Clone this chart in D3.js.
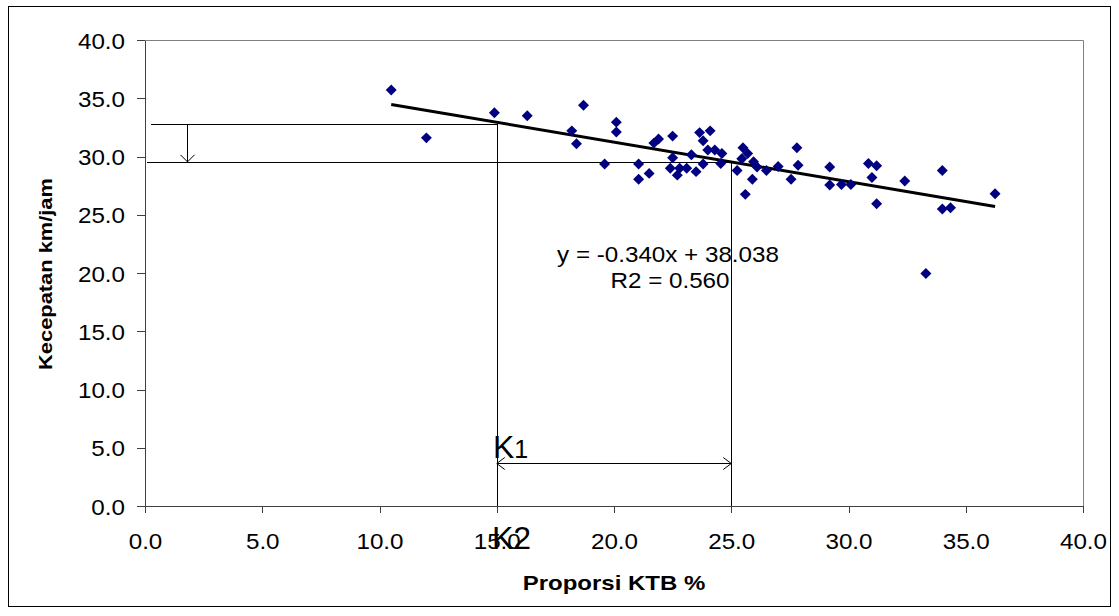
<!DOCTYPE html>
<html>
  <head>
    <meta charset="utf-8">
    <title>Kecepatan vs Proporsi KTB</title>
    <style>
      body { margin: 0; background: #fff; }
      svg text { font-family: "Liberation Sans", Arial, sans-serif; fill: #000; }
      .axis path, .axis line { fill: none; stroke: #404040; shape-rendering: crispEdges; }
      .axis text { font-size: 22px; }
      .title { font-size: 19px; font-weight: bold; }
      .guide { stroke: #000; stroke-width: 1; fill: none; shape-rendering: crispEdges; }
    </style>
  </head>
  <body>
    <div class="chart"></div>
    <script src="https://d3js.org/d3.v7.min.js"></script>
    <script>
      // Data
      var proporsi = [10.5, 12.0, 14.9, 16.3, 18.7, 18.2, 18.4, 20.1, 20.1, 19.6,
                      21.05, 21.05, 21.5, 21.7, 21.9, 22.5, 22.5, 22.4, 22.7, 22.8,
                      23.1, 23.5, 23.3, 23.65, 23.8, 24.1, 23.8, 24.0, 24.3, 24.6,
                      24.55, 25.25, 25.5, 25.45, 25.6, 25.7, 25.95, 26.1, 25.9, 26.5,
                      27.0, 27.8, 27.85, 27.55, 29.2, 29.2, 29.7, 30.1, 30.85, 31.2,
                      31.0, 31.2, 32.4, 34.0, 34.0, 34.35, 36.25, 33.3];
      var kecepatan = [35.7, 31.6, 33.75, 33.5, 34.4, 32.2, 31.1, 32.95, 32.1, 29.35,
                       29.35, 28.05, 28.55, 31.15, 31.5, 31.75, 29.9, 29.0, 28.4, 29.0,
                       29.0, 28.7, 30.15, 32.05, 31.35, 32.2, 29.35, 30.55, 30.55, 30.25,
                       29.4, 28.8, 30.75, 29.8, 26.75, 30.25, 29.55, 29.1, 28.05, 28.8,
                       29.15, 30.75, 29.25, 28.05, 29.1, 27.55, 27.6, 27.6, 29.4, 29.2,
                       28.2, 25.95, 27.9, 28.8, 25.5, 25.6, 26.8, 19.95];
      var xTicks = [0, 5, 10, 15, 20, 25, 30, 35, 40];
      var yTicks = [0, 5, 10, 15, 20, 25, 30, 35, 40];

      // trend line y = -0.340x + 38.038
      var slope = -0.340, intercept = 38.038;
      var trendX = [10.5, 36.25];

      // guide values (K1 / K2 construction)
      var k1 = 15, k2 = 25;
      var speedAtK1 = 32.8, speedAtK2 = 29.54;
      var arrowDownX = 1.8;
      var arrowRowY = 3.7;

      var width = 1119, height = 616;
      var plot = {left: 145, top: 40, right: 1083, bottom: 506};

      var svg = d3.select(".chart").append("svg")
        .attr("width", width)
        .attr("height", height);

      // outer frame
      svg.append("rect")
        .attr("x", 8.5).attr("y", 6.5)
        .attr("width", 1102).attr("height", 600)
        .attr("fill", "none").attr("stroke", "#000");

      var x = d3.scaleLinear().domain([0, 40]).range([plot.left, plot.right]);
      var y = d3.scaleLinear().domain([0, 40]).range([plot.bottom, plot.top]);

      // plot area border (top / right)
      svg.append("path")
        .attr("d", "M" + plot.left + "," + (plot.top + 0.5) + "H" + (plot.right + 0.5) + "V" + plot.bottom)
        .attr("fill", "none").attr("stroke", "#808080");

      var fmt = d3.format(".1f");

      var xAxis = svg.append("g")
        .attr("class", "x axis")
        .attr("transform", "translate(0," + plot.bottom + ")")
        .call(d3.axisBottom(x).tickValues(xTicks).tickFormat(fmt).tickSizeInner(7).tickSizeOuter(0));
      xAxis.selectAll("text")
        .attr("y", 0).attr("dy", 0)
        .attr("transform", "translate(0,43) scale(1.1,1)");

      var yAxis = svg.append("g")
        .attr("class", "y axis")
        .attr("transform", "translate(" + plot.left + ",0)")
        .call(d3.axisLeft(y).tickValues(yTicks).tickFormat(fmt).tickSizeInner(8).tickSizeOuter(0));
      yAxis.selectAll("text")
        .attr("x", 0).attr("dy", 0)
        .attr("transform", "translate(-20,8) scale(1.1,1)");

      // guide lines
      var g = svg.append("g").attr("class", "guide");
      g.append("line")
        .attr("x1", x(0.25)).attr("x2", x(k1))
        .attr("y1", Math.round(y(speedAtK1)) + 0.5).attr("y2", Math.round(y(speedAtK1)) + 0.5);
      g.append("line")
        .attr("x1", x(0.1)).attr("x2", x(k2))
        .attr("y1", Math.round(y(speedAtK2)) + 0.5).attr("y2", Math.round(y(speedAtK2)) + 0.5);
      g.append("line")
        .attr("x1", Math.round(x(k1)) + 0.5).attr("x2", Math.round(x(k1)) + 0.5)
        .attr("y1", y(speedAtK1)).attr("y2", y(0));
      g.append("line")
        .attr("x1", Math.round(x(k2)) + 0.5).attr("x2", Math.round(x(k2)) + 0.5)
        .attr("y1", y(speedAtK2)).attr("y2", y(0));

      // down arrow
      var ax = Math.round(x(arrowDownX)) + 0.5;
      var ay = y(speedAtK2);
      g.append("line").attr("x1", ax).attr("x2", ax).attr("y1", y(speedAtK1)).attr("y2", ay);
      g.append("path")
        .style("shape-rendering", "auto")
        .attr("d", "M" + (ax - 7) + "," + (ay - 7) + "L" + ax + "," + ay + "L" + (ax + 7) + "," + (ay - 7));

      // double arrow between K1 and K2
      var ry = Math.round(y(arrowRowY)) + 0.5;
      var r1 = x(k1), r2 = x(k2);
      g.append("line").attr("x1", r1).attr("x2", r2).attr("y1", ry).attr("y2", ry);
      g.append("path")
        .style("shape-rendering", "auto")
        .attr("d", "M" + (r1 + 8) + "," + (ry - 6) + "L" + r1 + "," + ry + "L" + (r1 + 8) + "," + (ry + 6));
      g.append("path")
        .style("shape-rendering", "auto")
        .attr("d", "M" + (r2 - 8) + "," + (ry - 6) + "L" + r2 + "," + ry + "L" + (r2 - 8) + "," + (ry + 6));

      // trend line
      var line = d3.line()
        .x(function(d) { return x(d); })
        .y(function(d) { return y(slope * d + intercept); });
      svg.append("path")
        .datum(trendX)
        .attr("d", line)
        .attr("fill", "none")
        .attr("stroke", "#000")
        .attr("stroke-width", 3);

      // scatter points
      var diamond = d3.symbol().type(d3.symbolSquare).size(60);
      svg.selectAll(".pt")
        .data(proporsi)
        .enter().append("path")
        .attr("class", "pt")
        .attr("d", diamond)
        .attr("fill", "#000080")
        .attr("transform", function(d, i) {
          return "translate(" + x(d) + "," + y(kecepatan[i]) + ") rotate(45)";
        });

      // equation text
      svg.append("text")
        .attr("transform", "translate(668,262) scale(1.1,1)")
        .attr("text-anchor", "middle")
        .style("font-size", "22px")
        .text("y = -0.340x + 38.038");
      svg.append("text")
        .attr("transform", "translate(670,288) scale(1.1,1)")
        .attr("text-anchor", "middle")
        .style("font-size", "22px")
        .text("R2 = 0.560");

      // K1 / K2 labels
      var k1Text = svg.append("text")
        .attr("x", 493).attr("y", 458)
        .style("font-size", "32px");
      k1Text.append("tspan").text("K");
      k1Text.append("tspan").style("font-size", "25px").text("1");
      svg.append("text")
        .attr("x", 492).attr("y", 549)
        .style("font-size", "32px")
        .text("K2");

      // axis titles
      svg.append("text")
        .attr("class", "title")
        .attr("transform", "translate(614,590) scale(1.2,1)")
        .attr("text-anchor", "middle")
        .style("font-size", "20px")
        .text("Proporsi KTB %");
      svg.append("text")
        .attr("class", "title")
        .attr("transform", "translate(52,274) rotate(-90) scale(1.15,1)")
        .attr("text-anchor", "middle")
        .text("Kecepatan km/jam");
    </script>
  </body>
</html>
